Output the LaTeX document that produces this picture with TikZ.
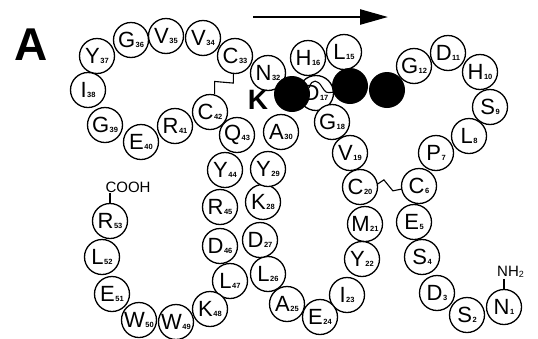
\documentclass[tikz,border=0pt]{standalone}
\usepackage{fontspec}
\setmainfont{Liberation Sans}
\usetikzlibrary{arrows.meta,calc}
\tikzset{
  res/.style={circle,draw,line width=1.3pt,minimum size=35pt,inner sep=0pt,fill=white,font=\fontsize{22}{22}\selectfont},
  blob/.style={circle,fill=black,minimum size=36pt,inner sep=0pt},
  bond/.style={line width=1.1pt},
  biglbl/.style={font=\fontsize{#1}{#1}\selectfont\bfseries,inner sep=0pt},
  termlbl/.style={font=\fontsize{15}{15}\selectfont,inner sep=0pt},
}
\newcommand\rs[2]{#1\kern0.5pt{\fontsize{7.5}{7.5}\selectfont\bfseries #2}}
\begin{document}
\begin{tikzpicture}[x=1pt,y=-1pt]
\useasboundingbox[fill=white] (0,0) rectangle (538,338);
% label A
\node[biglbl=46] (lblA) at (31,45) {A};
% arrow
\coordinate (arS) at (253,17);
\coordinate (arE) at (388,17);
\draw[line width=2.5pt,-{Triangle[length=28pt,width=15pt]}] (arS) -- (arE);
% residues
\node[res] (r1) at (504,307) {\rs{N}{1}};
\node[res] (r2) at (467,315) {\rs{S}{2}};
\node[res] (r3) at (437,293) {\rs{D}{3}};
\node[res] (r4) at (422,257) {\rs{S}{4}};
\node[res] (r5) at (414,222) {\rs{E}{5}};
\node[res] (r6) at (419,186) {\rs{C}{6}};
\node[res] (r7) at (436,153) {\rs{P}{7}};
\node[res] (r8) at (469,136) {\rs{L}{8}};
\node[res] (r9) at (490,107) {\rs{S}{9}};
\node[res] (r10) at (480,72) {\rs{H}{10}};
\node[res] (r11) at (448,53) {\rs{D}{11}};
\node[res] (r12) at (414,66) {\rs{G}{12}};
\node[res] (r15) at (344,52) {\rs{L}{15}};
\node[res] (r16) at (308,58) {\rs{H}{16}};
\node[res] (r17) at (316,93) {\rs{D}{17}};
\node[res] (r18) at (332,122) {\rs{G}{18}};
\node[res] (r19) at (350,153) {\rs{V}{19}};
\node[res] (r20) at (360,187) {\rs{C}{20}};
\node[res] (r21) at (365,224) {\rs{M}{21}};
\node[res] (r22) at (362,259) {\rs{Y}{22}};
\node[res] (r23) at (347,295) {\rs{I}{23}};
\node[res] (r24) at (320,317) {\rs{E}{24}};
\node[res] (r25) at (287,304) {\rs{A}{25}};
\node[res] (r26) at (268,274) {\rs{L}{26}};
\node[res] (r27) at (260,240) {\rs{D}{27}};
\node[res] (r28) at (263,202) {\rs{K}{28}};
\node[res] (r29) at (268,169) {\rs{Y}{29}};
\node[res] (r30) at (281,132) {\rs{A}{30}};
\node[res] (r32) at (268,73) {\rs{N}{32}};
\node[res] (r33) at (235,56) {\rs{C}{33}};
\node[res] (r34) at (203,38) {\rs{V}{34}};
\node[res] (r35) at (166,36) {\rs{V}{35}};
\node[res] (r36) at (131,40) {\rs{G}{36}};
\node[res] (r37) at (97,56) {\rs{Y}{37}};
\node[res] (r38) at (88,90) {\rs{I}{38}};
\node[res] (r39) at (105,125) {\rs{G}{39}};
\node[res] (r40) at (141,142) {\rs{E}{40}};
\node[res] (r41) at (175,126) {\rs{R}{41}};
\node[res] (r42) at (210,112) {\rs{C}{42}};
\node[res] (r43) at (237,135) {\rs{Q}{43}};
\node[res] (r44) at (225,170) {\rs{Y}{44}};
\node[res] (r45) at (220,207) {\rs{R}{45}};
\node[res] (r46) at (220,246) {\rs{D}{46}};
\node[res] (r47) at (230,281) {\rs{L}{47}};
\node[res] (r48) at (210,309) {\rs{K}{48}};
\node[res] (r49) at (176,322) {\rs{W}{49}};
\node[res] (r50) at (139,320) {\rs{W}{50}};
\node[res] (r51) at (112,294) {\rs{E}{51}};
\node[res] (r52) at (102,257) {\rs{L}{52}};
\node[res] (r53) at (110,221) {\rs{R}{53}};
% black spheres
\node[blob] (b1) at (292,94) {};
\node[blob] (b2) at (350,86) {};
\node[blob] (b3) at (387,90) {};
% K label
\node[biglbl=28] (lblK) at (258,100) {K};
% lysine side chain squiggle
\draw[bond] (b1.20) .. controls (312,78) and (318,80) .. (322,87) .. controls (326,93) .. (b2.200);
% disulfide bonds
\draw[bond] (r33.265) -- ++(0,9) -- ($(r42.75)+(0,-13)$) -- (r42.75);
\draw[bond] (r20.10) -- ++(6,-4) -- ++(9,11) -- (r6.190);
% termini
\node[termlbl] (cooh) at (128,187) {COOH};
\draw[bond] (r53.north) -- (r53.north |- cooh.south);
\node[termlbl,anchor=west] (nh2) at (497,272) {NH{\fontsize{9}{9}\selectfont\raisebox{-1pt}{2}}};
\draw[bond] (r1.north) -- ++(0,-10);
\end{tikzpicture}
\end{document}
